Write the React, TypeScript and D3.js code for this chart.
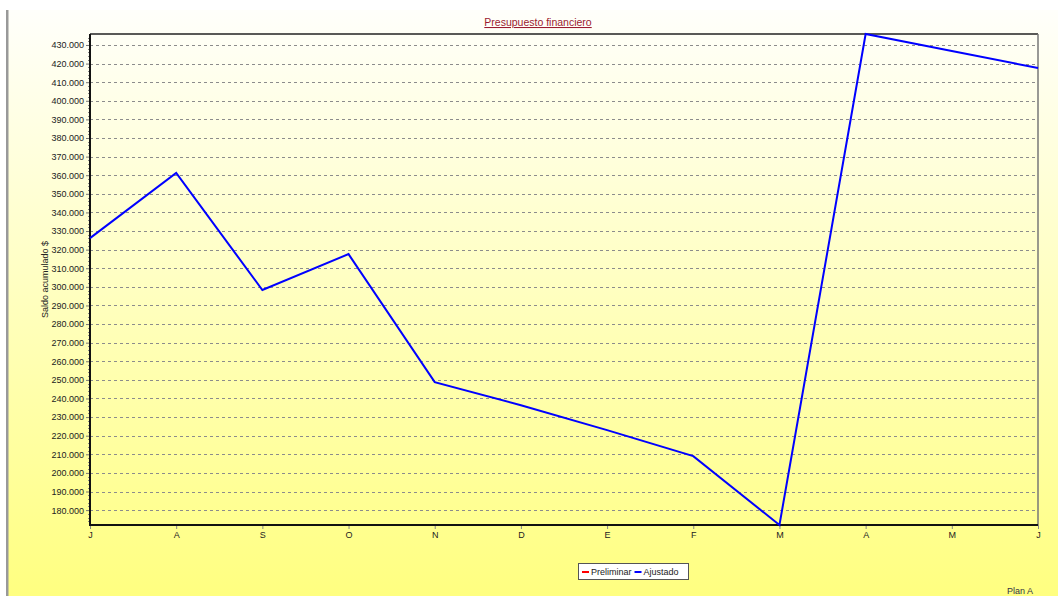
import React, { useEffect, useRef } from "react";
import * as d3 from "d3";

const months = ["J", "A", "S", "O", "N", "D", "E", "F", "M", "A", "M", "J"];
const ajustado = [326200, 361200, 298300, 317600, 248800, 236400, 223000, 209000, 172000, 435900, 426800, 417600];
const legendItems = [
  { name: "Preliminar", color: "#ff0000" },
  { name: "Ajustado", color: "#0000ff" },
];
const yTicks = d3.range(180000, 430001, 10000);

const W = 1058;
const H = 596;
const margin = { left: 90, right: 20, top: 34, bottom: 71 };

function App() {
  const ref = useRef<SVGSVGElement>(null);

  useEffect(() => {
    const svg = d3.select(ref.current);
    svg.selectAll("*").remove();

    const defs = svg.append("defs");
    const grad = defs.append("linearGradient")
      .attr("id", "bg").attr("x1", 0).attr("y1", 0).attr("x2", 0).attr("y2", 1);
    grad.append("stop").attr("offset", "0%").attr("stop-color", "#fffffb");
    grad.append("stop").attr("offset", "100%").attr("stop-color", "#ffff80");

    svg.append("rect").attr("width", W).attr("height", H).attr("fill", "#ffffff");
    svg.append("rect").attr("x", 8).attr("y", 10).attr("width", W - 8).attr("height", H - 10).attr("fill", "url(#bg)");
    svg.append("rect").attr("x", 6).attr("y", 10).attr("width", 2.5).attr("height", H - 10).attr("fill", "#999");

    const x = d3.scalePoint<number>()
      .domain(d3.range(months.length))
      .range([margin.left, W - margin.right]);
    const ext = d3.extent(ajustado) as [number, number];
    const y = d3.scaleLinear().domain(ext).range([H - margin.bottom, margin.top]);

    const font = "'Liberation Sans', Arial, sans-serif";

    // gridlines
    svg.append("g").selectAll("line").data(yTicks).join("line")
      .attr("x1", margin.left).attr("x2", W - margin.right)
      .attr("y1", d => Math.round(y(d)) + 0.5).attr("y2", d => Math.round(y(d)) + 0.5)
      .attr("stroke", "#8c8c8c").attr("stroke-dasharray", "3,3").attr("stroke-width", 1);

    // minor ticks
    const minor = d3.range(174000, 436000, 2000).filter(v => v % 10000 !== 0);
    svg.append("g").selectAll("line").data(minor).join("line")
      .attr("x1", margin.left - 2).attr("x2", margin.left)
      .attr("y1", d => Math.round(y(d)) + 0.5).attr("y2", d => Math.round(y(d)) + 0.5)
      .attr("stroke", "#888");

    // y axis
    const yAxis = svg.append("g").attr("transform", `translate(${margin.left},0)`)
      .call(d3.axisLeft(y).tickValues(yTicks).tickSize(4).tickPadding(2)
        .tickFormat(d => d3.format(",")(d as number).replace(/,/g, ".")));
    yAxis.select(".domain").remove();
    yAxis.selectAll("line").attr("stroke", "#777");
    yAxis.selectAll("text").attr("font-family", font).attr("font-size", 9).attr("fill", "#222");

    // x axis
    const xAxis = svg.append("g").attr("transform", `translate(0,${H - margin.bottom})`)
      .call(d3.axisBottom(x).tickSize(4).tickPadding(3).tickFormat(i => months[i as number]));
    xAxis.select(".domain").remove();
    xAxis.selectAll("line").attr("stroke", "#888");
    xAxis.selectAll("text").attr("font-family", font).attr("font-size", 9).attr("fill", "#222");

    // frame
    const x0 = margin.left, x1 = W - margin.right, y0 = margin.top, y1 = H - margin.bottom;
    svg.append("line").attr("x1", x0).attr("x2", x1).attr("y1", y0).attr("y2", y0).attr("stroke", "#222").attr("stroke-width", 1.5);
    svg.append("line").attr("x1", x1).attr("x2", x1).attr("y1", y0).attr("y2", y1).attr("stroke", "#777").attr("stroke-width", 1.5);
    svg.append("line").attr("x1", x0).attr("x2", x1).attr("y1", y1).attr("y2", y1).attr("stroke", "#111").attr("stroke-width", 2);
    svg.append("line").attr("x1", x0).attr("x2", x0).attr("y1", y0).attr("y2", y1 + 1).attr("stroke", "#111").attr("stroke-width", 2);

    // line
    const line = d3.line<number>().x((_, i) => x(i) as number).y(d => y(d));
    svg.append("path").datum(ajustado)
      .attr("d", line).attr("fill", "none").attr("stroke", "#0000ff").attr("stroke-width", 2);

    // title
    svg.append("text").attr("x", 538).attr("y", 26).attr("text-anchor", "middle")
      .attr("font-family", font).attr("font-size", 10.5).attr("fill", "#9b1b30")
      .attr("text-decoration", "underline").text("Presupuesto financiero");

    // y label
    svg.append("text").attr("transform", `translate(48,${(y0 + y1) / 2}) rotate(-90)`)
      .attr("text-anchor", "middle").attr("font-family", font).attr("font-size", 9).attr("fill", "#222")
      .text("Saldo acumulado $");

    // legend
    const lg = svg.append("g");
    lg.append("rect").attr("x", 578.5).attr("y", 563.5).attr("width", 110).attr("height", 16)
      .attr("fill", "#fff").attr("stroke", "#555");
    let lx = 582;
    legendItems.forEach(item => {
      lg.append("line").attr("x1", lx).attr("x2", lx + 7).attr("y1", 572).attr("y2", 572)
        .attr("stroke", item.color).attr("stroke-width", 2);
      const t = lg.append("text").attr("x", lx + 9).attr("y", 575)
        .attr("font-family", font).attr("font-size", 9).attr("fill", "#222").text(item.name);
      const w = (t.node() as SVGTextElement).getComputedTextLength();
      lx += 9 + w + 3;
    });

    svg.append("text").attr("x", 1033).attr("y", 594).attr("text-anchor", "end")
      .attr("font-family", font).attr("font-size", 9).attr("fill", "#334").text("Plan A");
  }, []);

  return (
    <svg ref={ref} width={W} height={H} style={{ position: "absolute", left: 0, top: 0 }} />
  );
}

export default App;
